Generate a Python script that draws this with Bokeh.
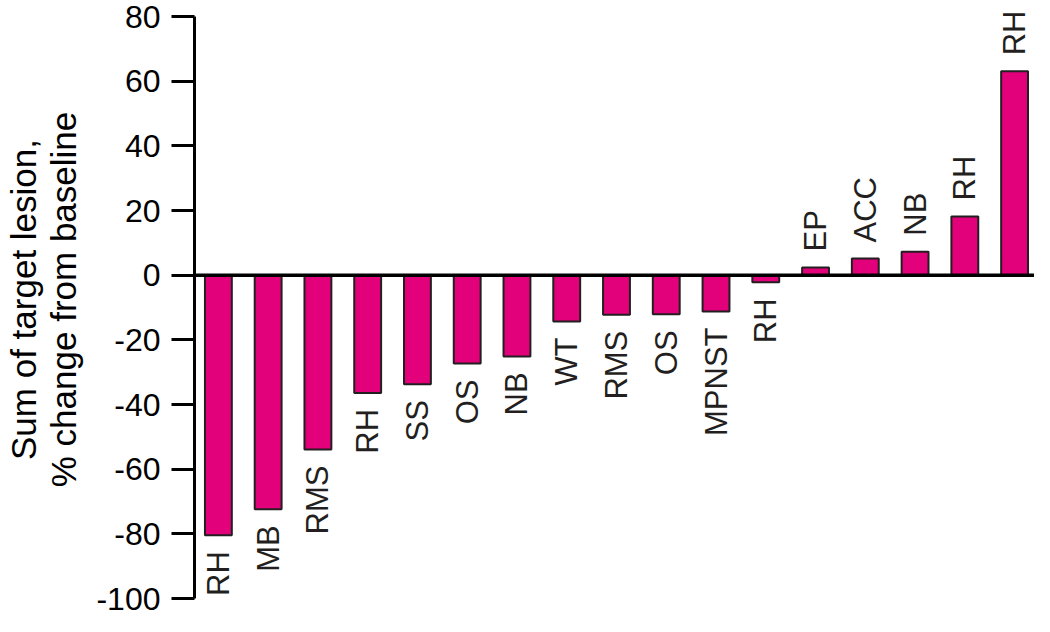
from bokeh.plotting import figure
from bokeh.models import Span, FixedTicker, ColumnDataSource, Range1d, LabelSet
from bokeh.core.properties import value
from bokeh.embed import file_html
from bokeh.resources import INLINE

# ---- data ----
tumor_types = ["RH", "MB", "RMS", "RH", "SS", "OS", "NB", "WT", "RMS", "OS",
               "MPNST", "RH", "EP", "ACC", "NB", "RH", "RH"]
pct_change = [-80.4, -72.4, -53.9, -36.4, -33.7, -27.3, -25.1, -14.3, -12.2,
              -12.1, -11.2, -2.2, 2.4, 5.2, 7.3, 18.2, 63.1]
y_ticks = [-100, -80, -60, -40, -20, 0, 20, 40, 60, 80]
y_tick_labels = ["-100", "-80", "-60", "-40", "-20", "0", "20", "40", "60", "80"]
y_title = "Sum of target lesion,\n% change from baseline"

FONT = "Liberation Sans"
BAR_FILL = "#E3007B"
INK = "#231F20"

xs = list(range(len(pct_change)))
src = ColumnDataSource(dict(x=xs, v=pct_change, lab=tumor_types))
neg = ColumnDataSource(dict(
    x=[x for x, v in zip(xs, pct_change) if v < 0],
    v=[v for v in pct_change if v < 0],
    lab=[l for l, v in zip(tumor_types, pct_change) if v < 0]))
pos = ColumnDataSource(dict(
    x=[x for x, v in zip(xs, pct_change) if v >= 0],
    v=[v for v in pct_change if v >= 0],
    lab=[l for l, v in zip(tumor_types, pct_change) if v >= 0]))

# headroom above the top tick so the tallest bar label is not clipped
p = figure(width=1034, height=616, output_backend="svg", toolbar_location=None,
           x_range=Range1d(-0.48, 16.4), y_range=Range1d(-100, 85),
           min_border_left=190, min_border_right=0,
           min_border_top=0, min_border_bottom=18)

p.vbar(x="x", top="v", bottom=0, width=0.54, source=src,
       fill_color=BAR_FILL, line_color=INK, line_width=2)

p.add_layout(Span(location=0, dimension="width", line_color="black", line_width=3.5))

p.add_layout(LabelSet(x="x", y="v", text="lab", source=neg, angle=1.5708,
                      text_align="right", text_baseline="middle", y_offset=-16,
                      text_font=value(FONT), text_font_size=value("31px"),
                      text_color=value(INK)))
p.add_layout(LabelSet(x="x", y="v", text="lab", source=pos, angle=1.5708,
                      text_align="left", text_baseline="middle", y_offset=16,
                      text_font=value(FONT), text_font_size=value("31px"),
                      text_color=value(INK)))

p.xaxis.visible = False
p.xgrid.visible = False
p.ygrid.visible = False
p.outline_line_color = None

ax = p.yaxis[0]
ax.ticker = FixedTicker(ticks=y_ticks)
ax.bounds = (y_ticks[0], y_ticks[-1])
ax.major_label_overrides = {t: s for t, s in zip(y_ticks, y_tick_labels)}
ax.minor_tick_line_color = None
ax.major_tick_in = 0
ax.major_tick_out = 23
ax.major_tick_line_width = 3
ax.major_tick_line_color = "black"
ax.axis_line_width = 3
ax.axis_line_color = "black"
ax.major_label_text_font = FONT
ax.major_label_text_font_size = "32px"
ax.major_label_text_color = "black"
ax.major_label_standoff = 11
ax.axis_label = y_title
ax.axis_label_text_font = FONT
ax.axis_label_text_font_size = "35px"
ax.axis_label_text_font_style = "normal"
ax.axis_label_text_color = "black"
ax.axis_label_text_line_height = 1.05
ax.axis_label_standoff = 10

open("out.html", "w").write(file_html(p, INLINE))
